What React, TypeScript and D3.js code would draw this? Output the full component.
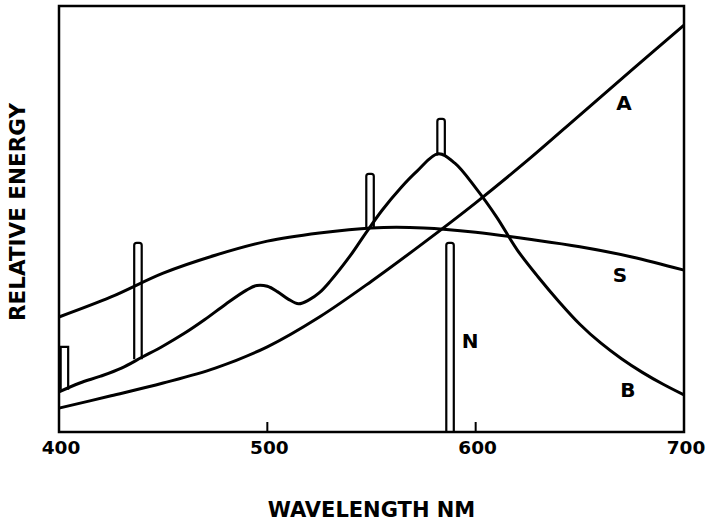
import React from "react";
import * as d3 from "d3";

// Wavelength grid (nm) and relative energy readings
const wlA = [400, 425, 450, 475, 500, 525, 550, 575, 600, 625, 650, 675, 700];
const curveA = [5.6, 8.5, 11.5, 15.0, 20.0, 27.0, 35.4, 44.4, 53.8, 63.8, 74.4, 85.0, 95.5];
const curveS = [27.0, 31.7, 37.3, 41.5, 44.8, 46.7, 47.9, 47.9, 46.9, 45.3, 43.5, 41.1, 38.0];

const wlB = [
  400, 410, 420, 430, 440, 450, 460, 470, 480, 490, 495, 500, 505, 510, 515, 520,
  525, 530, 540, 547, 555, 564, 572, 582, 590, 600, 610, 620, 630, 640, 650, 660,
  670, 680, 690, 700,
];
const curveB = [
  9.4, 11.5, 13.1, 15.0, 17.6, 20.2, 23.1, 26.4, 30.0, 33.3, 34.4, 34.2, 32.9, 31.2,
  30.1, 31.0, 32.7, 35.3, 41.5, 46.5, 52.0, 57.3, 61.3, 65.3, 63.1, 57.3, 50.5, 42.7,
  36.4, 30.6, 25.3, 20.9, 17.2, 14.0, 11.2, 8.7,
];

// Mercury lines sitting on curve B, and the sodium line N
const lineWl = [402.6, 437.9, 549.3, 583.4];
const lineTop = [20.0, 44.4, 60.6, 73.5];
const sodiumWl = 587.7;
const sodiumTop = 44.4;

const xTicks = [400, 500, 600, 700];
const curveLabels = ["A", "S", "B", "N"];
const labelWl = [671.2, 669.3, 673.1, 597.3];
const labelVal = [75.6, 35.2, 8.2, 19.7];

const W = 707;
const H = 522;
const margin = { top: 6, right: 23, bottom: 90, left: 59 };
const font = "'DejaVu Sans', sans-serif";

const App: React.FC = () => {
  const x = d3.scaleLinear().domain([400, 700]).range([margin.left, W - margin.right]);
  const y = d3.scaleLinear().domain([0, 100]).range([H - margin.bottom, margin.top]);

  const line = d3
    .line<[number, number]>()
    .x((d) => x(d[0]))
    .y((d) => y(d[1]))
    .curve(d3.curveCatmullRom.alpha(0.5));

  const pathA = line(wlA.map((w, i) => [w, curveA[i]]))!;
  const pathS = line(wlA.map((w, i) => [w, curveS[i]]))!;
  const pathB = line(wlB.map((w, i) => [w, curveB[i]]))!;

  // base of each spike = curve B at that wavelength
  const bAt = d3.scaleLinear().domain(wlB).range(curveB);

  const barW = 7.5;
  const r = 2.5;
  const barPath = (wl: number, base: number, top: number, round = true) => {
    const l = x(wl) - barW / 2;
    const rt = x(wl) + barW / 2;
    const yb = y(base);
    const yt = y(top);
    if (!round) return `M${l},${yb}L${l},${yt}L${rt},${yt}L${rt},${yb}`;
    return `M${l},${yb}L${l},${yt + r}Q${l},${yt} ${l + r},${yt}L${rt - r},${yt}Q${rt},${yt} ${rt},${yt + r}L${rt},${yb}`;
  };

  const x0 = x(400);
  const x1 = x(700);
  const y0 = y(0);
  const y1 = y(100);

  return (
    <svg
      width={W}
      height={H}
      style={{ position: "absolute", left: 0, top: 0, background: "#fff" }}
    >
      {/* spikes */}
      <g fill="none" stroke="#000" strokeWidth={2.2}>
        {lineWl.map((wl, i) => (
          <path key={wl} d={barPath(wl, bAt(wl), lineTop[i], i !== 0)} />
        ))}
        <path d={barPath(sodiumWl, 0, sodiumTop)} />
      </g>

      {/* curves */}
      <g fill="none" stroke="#000" strokeWidth={3} strokeLinejoin="round">
        <path d={pathA} />
        <path d={pathS} />
        <path d={pathB} />
      </g>

      {/* frame */}
      <rect
        x={x0}
        y={y1}
        width={x1 - x0}
        height={y0 - y1}
        fill="none"
        stroke="#000"
        strokeWidth={2.5}
      />

      {/* ticks */}
      <g stroke="#000" strokeWidth={2}>
        {xTicks.map((t) => (
          <line key={t} x1={x(t)} x2={x(t)} y1={y0} y2={y0 - 10} />
        ))}
      </g>
      <g fontFamily={font} fontWeight="bold" fontSize={18.5} textAnchor="middle">
        {xTicks.map((t) => (
          <text key={t} x={x(t) + 2} y={y0 + 22}>
            {t}
          </text>
        ))}
      </g>

      {/* curve labels */}
      <g fontFamily={font} fontWeight="bold" fontSize={20} textAnchor="middle">
        {curveLabels.map((c, i) => (
          <text key={c} x={x(labelWl[i])} y={y(labelVal[i])}>
            {c}
          </text>
        ))}
      </g>

      {/* axis titles */}
      <text
        x={(x0 + x1) / 2}
        y={517}
        fontFamily={font}
        fontWeight="bold"
        fontSize={21}
        textAnchor="middle"
      >
        WAVELENGTH NM
      </text>
      <text
        transform={`translate(25,212) rotate(-90)`}
        fontFamily={font}
        fontWeight="bold"
        fontSize={21.5}
        textAnchor="middle"
      >
        RELATIVE ENERGY
      </text>
    </svg>
  );
};

export default App;
